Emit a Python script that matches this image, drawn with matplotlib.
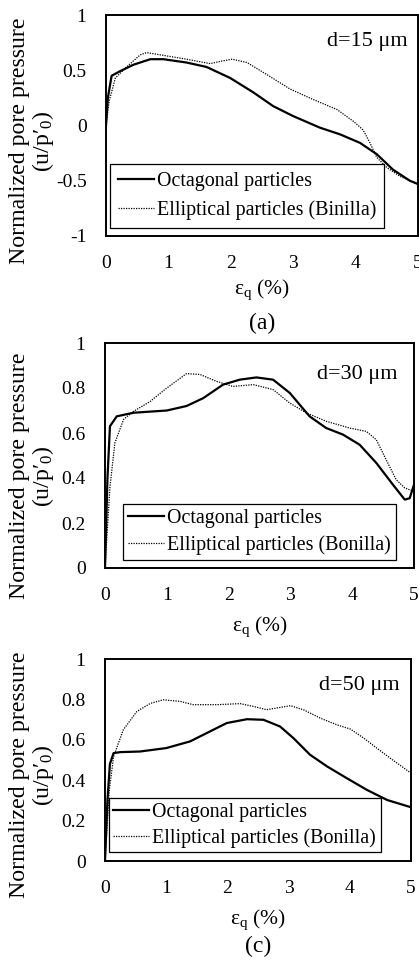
import matplotlib
matplotlib.use("Agg")
import matplotlib.pyplot as plt

plt.rcParams['font.family'] = ['Liberation Serif', 'DejaVu Serif']
plt.rcParams['mathtext.fontset'] = 'custom'
plt.rcParams['mathtext.rm'] = 'Liberation Serif'
plt.rcParams['mathtext.it'] = 'Liberation Serif:italic'

FS_TICK = 14
FS_LEG = 14.4
FS_D = 16
FS_XLAB = 15.5
FS_YLAB = 17.2
FS_CAP = 17

# ---- data ----
# (a) d = 15 um
a_oct_x = [0, 0.03, 0.09, 0.22, 0.44, 0.71, 0.92, 1.29, 1.61, 1.99, 2.36, 2.68, 3.0, 3.43, 3.75, 4.07, 4.34, 4.6, 4.87, 5.0]
a_oct_y = [0, 0.25, 0.45, 0.49, 0.55, 0.60, 0.60, 0.57, 0.53, 0.43, 0.30, 0.175, 0.085, -0.02, -0.08, -0.157, -0.26, -0.40, -0.50, -0.53]
a_ell_x = [0, 0.05, 0.15, 0.33, 0.55, 0.65, 0.97, 1.29, 1.67, 1.83, 2.02, 2.26, 2.58, 2.95, 3.32, 3.70, 3.96, 4.12, 4.23, 4.34, 4.5, 4.71, 5.0]
a_ell_y = [0, 0.22, 0.43, 0.53, 0.64, 0.66, 0.63, 0.60, 0.56, 0.58, 0.60, 0.57, 0.46, 0.33, 0.235, 0.145, 0.04, -0.04, -0.157, -0.29, -0.38, -0.46, -0.53]

# (b) d = 30 um
b_oct_x = [0, 0.04, 0.08, 0.19, 0.46, 1.0, 1.32, 1.59, 1.91, 2.18, 2.45, 2.72, 2.99, 3.31, 3.58, 3.85, 4.12, 4.39, 4.66, 4.85, 4.93, 5.0]
b_oct_y = [0, 0.40, 0.63, 0.674, 0.69, 0.70, 0.72, 0.755, 0.815, 0.837, 0.847, 0.837, 0.778, 0.674, 0.622, 0.593, 0.548, 0.467, 0.37, 0.304, 0.31, 0.37]
b_ell_x = [0, 0.08, 0.16, 0.30, 0.46, 0.73, 1.0, 1.32, 1.54, 1.80, 2.07, 2.40, 2.72, 2.99, 3.26, 3.58, 3.96, 4.23, 4.39, 4.55, 4.71, 4.85, 5.0]
b_ell_y = [0, 0.36, 0.556, 0.66, 0.696, 0.74, 0.80, 0.864, 0.86, 0.83, 0.807, 0.815, 0.793, 0.733, 0.689, 0.652, 0.622, 0.607, 0.570, 0.481, 0.393, 0.356, 0.34]

# (c) d = 50 um
c_oct_x = [0, 0.04, 0.08, 0.14, 0.25, 0.57, 1.0, 1.39, 1.66, 1.99, 2.32, 2.59, 2.86, 3.08, 3.35, 3.63, 3.95, 4.28, 4.61, 5.0]
c_oct_y = [0, 0.30, 0.48, 0.534, 0.539, 0.542, 0.559, 0.592, 0.633, 0.683, 0.702, 0.699, 0.666, 0.608, 0.526, 0.468, 0.41, 0.352, 0.302, 0.266]
c_ell_x = [0, 0.07, 0.14, 0.30, 0.52, 0.74, 0.95, 1.23, 1.44, 1.83, 2.21, 2.43, 2.64, 2.86, 3.03, 3.24, 3.52, 3.79, 4.01, 4.23, 4.44, 4.66, 5.0]
c_ell_y = [0, 0.35, 0.517, 0.65, 0.74, 0.78, 0.798, 0.79, 0.774, 0.774, 0.779, 0.765, 0.749, 0.76, 0.769, 0.749, 0.707, 0.674, 0.653, 0.608, 0.559, 0.509, 0.435]

x_ticks = [0, 1, 2, 3, 4, 5]
a_yticks = [-1, -0.5, 0, 0.5, 1]
a_ylabels = ['-1', '-0.5', '0', '0.5', '1']
bc_yticks = [0, 0.2, 0.4, 0.6, 0.8, 1]
bc_ylabels = ['0', '0.2', '0.4', '0.6', '0.8', '1']

labels_oct = 'Octagonal particles'
labels_ell = ['Elliptical particles (Binilla)', 'Elliptical particles (Bonilla)', 'Elliptical particles (Bonilla)']
sizes = ['d=15 μm', 'd=30 μm', 'd=50 μm']

W, H = 419, 961
fig = plt.figure(figsize=(W / 100, H / 100), dpi=100)


def box(x0, x1, top, bot):
    return [x0 / W, 1 - bot / H, (x1 - x0) / W, (bot - top) / H]


panels = [
    dict(rect=box(106, 418, 15, 236), ox=a_oct_x, oy=a_oct_y, ex=a_ell_x, ey=a_ell_y,
         ylim=(-1, 1), yt=a_yticks, yl=a_ylabels, leg=(0.013, 0.036), ls=0.5, bp=0.38,
         txt=(0.968, 0.878), ylab_y=141, xlab_y=290, cap='(a)', cap_y=323),
    dict(rect=box(105, 414, 343, 568), ox=b_oct_x, oy=b_oct_y, ex=b_ell_x, ey=b_ell_y,
         ylim=(0, 1), yt=bc_yticks, yl=bc_ylabels, leg=(0.058, 0.036), ls=0.35, bp=0.25,
         txt=(0.945, 0.858), ylab_y=476, xlab_y=627, cap=None, cap_y=None),
    dict(rect=box(105, 411, 659, 861), ox=c_oct_x, oy=c_oct_y, ex=c_ell_x, ey=c_ell_y,
         ylim=(0, 1), yt=bc_yticks, yl=bc_ylabels, leg=(0.013, 0.045), ls=0.3, bp=0.22,
         txt=(0.964, 0.871), ylab_y=775, xlab_y=920, cap='(c)', cap_y=946),
]

for i, p in enumerate(panels):
    ax = fig.add_axes(p['rect'])
    ax.plot(p['ox'], p['oy'], color='black', lw=1.6, label=labels_oct)
    ax.plot(p['ex'], p['ey'], color='black', lw=0.9, linestyle=(0, (1, 1)), label=labels_ell[i])
    ax.set_xlim(0, 5)
    ax.set_ylim(*p['ylim'])
    ax.set_xticks(x_ticks)
    ax.set_xticklabels([str(t) for t in x_ticks])
    ax.set_yticks(p['yt'])
    ax.set_yticklabels(p['yl'])
    ax.tick_params(length=0, labelsize=FS_TICK, pad=14)
    for s in ax.spines.values():
        s.set_linewidth(1.4)
        s.set_color('black')
    leg = ax.legend(loc='lower left', bbox_to_anchor=p['leg'], borderaxespad=0,
                    fontsize=FS_LEG, frameon=True, fancybox=False, edgecolor='black',
                    framealpha=1, handlelength=1.8, handletextpad=0.15,
                    labelspacing=p['ls'], borderpad=p['bp'])
    leg.get_frame().set_linewidth(0.9)
    ax.text(p['txt'][0], p['txt'][1], sizes[i], transform=ax.transAxes,
            ha='right', va='center', fontsize=FS_D)
    fig.text(33 / W, 1 - p['ylab_y'] / H, "Normalized pore pressure\n(u/p′$_0$)",
             rotation=90, ha='center', va='center', fontsize=FS_YLAB,
             multialignment='center', linespacing=1.0)
    cx = (p['rect'][0] + p['rect'][2] / 2)
    fig.text(cx, 1 - p['xlab_y'] / H, "ε$_\\mathrm{q}$ (%)", ha='center', va='center', fontsize=FS_XLAB)
    if p['cap']:
        fig.text(cx, 1 - p['cap_y'] / H, p['cap'], ha='center', va='center', fontsize=FS_CAP)

fig.savefig('out.png', dpi=100)
